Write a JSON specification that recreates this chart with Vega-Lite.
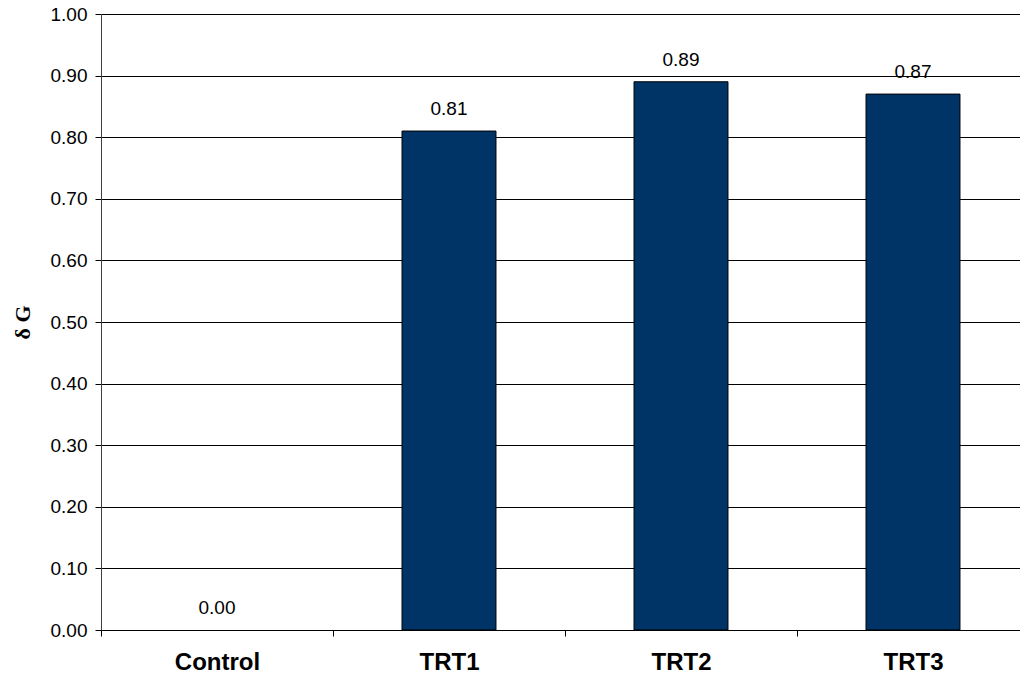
{
  "$schema": "https://vega.github.io/schema/vega-lite/v6.json",
  "autosize": "none",
  "width": 928,
  "height": 616,
  "padding": {"left": 101, "top": 14, "right": 0, "bottom": 53},
  "background": "white",
  "config": {
    "view": {"stroke": "#808080", "strokeWidth": 1},
    "font": "Liberation Sans"
  },
  "data": {
    "values": [
      {"group": "Control", "dG": 0.0},
      {"group": "TRT1", "dG": 0.81},
      {"group": "TRT2", "dG": 0.89},
      {"group": "TRT3", "dG": 0.87}
    ]
  },
  "encoding": {
    "x": {
      "field": "group",
      "type": "nominal",
      "sort": null,
      "scale": {"domain": ["Control", "TRT1", "TRT2", "TRT3"], "paddingInner": 0, "paddingOuter": 0},
      "axis": {
        "title": null,
        "labelAngle": 0,
        "labelFont": "Liberation Sans",
        "labelFontSize": 24,
        "labelFontWeight": "bold",
        "labelColor": "#000000",
        "labelPadding": 14,
        "tickBand": "extent",
        "tickSize": 6,
        "tickColor": "#000000",
        "domainColor": "#000000",
        "grid": false
      }
    }
  },
  "layer": [
    {
      "transform": [{"filter": "datum.dG > 0"}],
      "mark": {"type": "bar", "color": "#003366", "stroke": "#000000", "strokeWidth": 1, "width": {"band": 0.405}},
      "encoding": {
        "y": {
          "field": "dG",
          "type": "quantitative",
          "scale": {"domain": [0, 1], "nice": false},
          "axis": {
            "title": "δ G",
            "titleFont": "Liberation Serif",
            "titleFontSize": 22,
            "titleFontWeight": "bold",
            "titleColor": "#000000",
            "titlePadding": 16,
            "values": [0, 0.1, 0.2, 0.3, 0.4, 0.5, 0.6, 0.7, 0.8, 0.9, 1.0],
            "format": ".2f",
            "labelFont": "Liberation Sans",
            "labelFontSize": 19,
            "labelColor": "#000000",
            "labelPadding": 8,
            "tickSize": 6,
            "tickColor": "#000000",
            "domainColor": "#404040",
            "grid": true,
            "gridColor": "#000000",
            "gridOpacity": 1,
            "gridWidth": 1
          }
        }
      }
    },
    {
      "mark": {"type": "text", "dy": -22, "fontSize": 19, "font": "Liberation Sans", "color": "#000000"},
      "encoding": {
        "y": {"field": "dG", "type": "quantitative"},
        "text": {"field": "dG", "type": "quantitative", "format": ".2f"}
      }
    }
  ]
}
